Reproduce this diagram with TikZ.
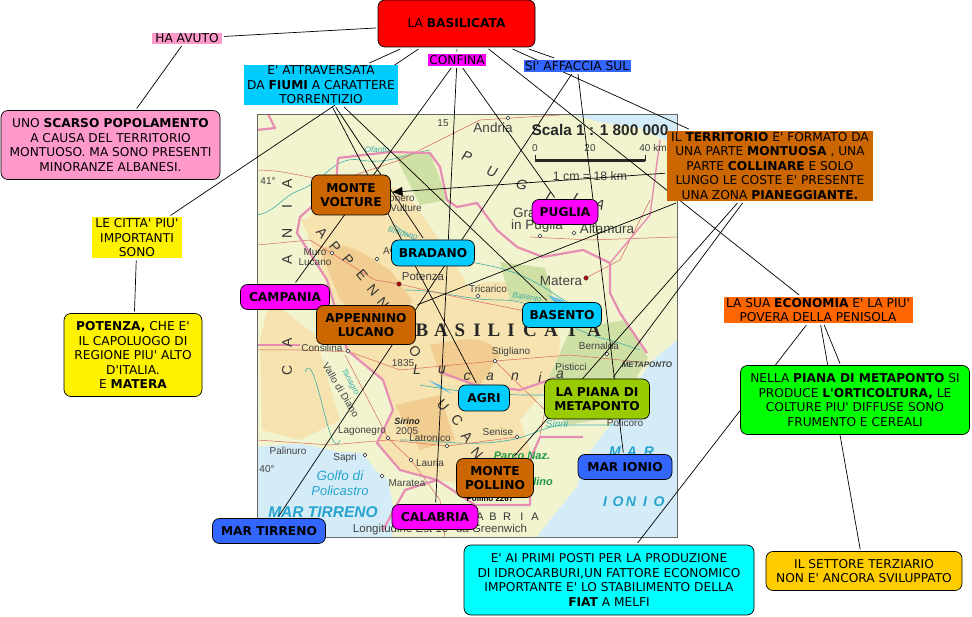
\documentclass[tikz,border=0pt]{standalone}
\usepackage{fontspec}
\setmainfont{DejaVu Sans}[Ligatures=TeXOff]
\newfontfamily\mapfont{Liberation Sans}
\newfontfamily\mapserif{Liberation Serif}
\usepackage{xcolor}
\usepackage{tikz}
\usetikzlibrary{arrows.meta, backgrounds}
\definecolor{sandbg}{HTML}{F1F4CF}
\definecolor{seabg}{HTML}{D4ECF8}
\definecolor{hillbg}{HTML}{F6E3B0}
\definecolor{peakbg}{HTML}{F1CD92}
\definecolor{plainbg}{HTML}{CFE0A4}
\definecolor{borderpk}{HTML}{E58DB2}
\definecolor{roadrd}{HTML}{D9695F}
\definecolor{rivertl}{HTML}{3FAFA8}
\definecolor{seatxt}{HTML}{27A3CF}
\definecolor{parkgr}{HTML}{1E9A45}
\definecolor{rootred}{HTML}{FF0000}
\definecolor{pinkbx}{HTML}{FF99CC}
\definecolor{skybx}{HTML}{00CCFF}
\definecolor{magbx}{HTML}{FF00FF}
\definecolor{bluebx}{HTML}{3366FF}
\definecolor{brownbx}{HTML}{CC6600}
\definecolor{orangebx}{HTML}{FF6600}
\definecolor{greenbx}{HTML}{00FF00}
\definecolor{cyanbx}{HTML}{00FFFF}
\definecolor{amberbx}{HTML}{FFCC00}
\definecolor{olivebx}{HTML}{99CC00}
\tikzset{
    notebox/.style={rectangle, rounded corners=7pt, draw=black, line width=0.7pt, align=center, inner sep=0pt, outer sep=2pt, font=\fontsize{12.2}{14.5}\selectfont},
    placebox/.style={notebox, font=\fontsize{12.2}{14.5}\selectfont\bfseries},
    linktext/.style={rectangle, align=center, inner sep=0pt, outer sep=2pt, font=\fontsize{12.2}{14.5}\selectfont},
    boxsize/.style 2 args={minimum width=#1, minimum height=#2},
    link/.style={line width=0.7pt, black},
    arrow/.style={link, -{Triangle[length=10pt,width=9pt]}},
    maptext/.style={inner sep=0pt, font=\mapfont\fontsize{10}{10}\selectfont, text=black!75},
    bigtown/.style={maptext, font=\mapfont\fontsize{13.5}{14}\selectfont},
    seatext/.style={maptext, font=\mapfont\fontsize{14}{14}\selectfont\bfseries\itshape, text=seatxt},
    rivertext/.style={maptext, font=\mapfont\fontsize{8}{9}\selectfont\itshape, text=rivertl},
    bigletter/.style={maptext, font=\mapfont\fontsize{14}{14}\selectfont, text=black!80},
    town/.style={circle, draw=black!80, fill=white, line width=0.6pt, inner sep=1.4pt},
    capital/.style={circle, draw=black!70, fill=red!70!black, line width=0.4pt, inner sep=1.6pt},
    border/.style={borderpk, line width=2.2pt, line join=round},
    road/.style={roadrd, line width=0.5pt},
    river/.style={rivertl, line width=0.6pt}
}

\begin{document}
\begin{tikzpicture}[x=1pt, y=-1pt]
    \useasboundingbox (0,0) rectangle (972,617);

    % the map
    \begin{scope}[on background layer]
    \begin{scope}
        \clip (257,114) rectangle (677,537);
        \fill [sandbg] (257,114) rectangle (677,537);
        \fill [seabg] (570,114) -- (677,114) -- (677,146) -- (640,128) -- (600,122) -- cycle;
        \fill [seabg] (257,447) -- (290,444) to[out=0,in=170] (340,452) -- (363,453) -- (375,470) -- (388,480) -- (393,507) -- (392,537) -- (257,537) -- cycle;
        \fill [seabg] (677,340) -- (650,363) -- (630,395) -- (617,417) -- (595,445) -- (583,463) -- (577,487) -- (550,520) -- (537,537) -- (677,537) -- cycle;
        \fill [hillbg] (300,217) to[out=-40,in=180] (338,175) -- (372,190) to[out=30,in=130] (447,250) -- (470,290) to[out=40,in=90] (560,345) -- (555,378) -- (520,420) -- (530,450) -- (510,490) -- (437,480) -- (400,470) -- (377,443) -- (393,410) -- (383,380) -- (347,350) -- (327,280) -- cycle;
        \fill [hillbg] (270,300) -- (315,335) -- (340,420) -- (300,440) -- (262,430) -- (260,340) -- cycle;
        \fill [peakbg] (320,250) to[out=30,in=150] (390,270) -- (412,300) -- (402,345) -- (380,340) -- (340,300) -- cycle;
        \fill [peakbg] (430,345) to[out=10,in=120] (500,355) -- (480,385) -- (440,375) -- cycle;
        \fill [peakbg] (395,405) -- (440,395) -- (455,440) -- (420,450) -- cycle;
        \fill [plainbg] (570,330) -- (625,320) -- (648,358) -- (612,418) -- (565,425) -- (548,380) -- cycle;
        \fill [plainbg] (395,155) -- (430,153) -- (448,200) -- (420,205) -- cycle;
        \fill [plainbg] (500,262) -- (545,268) -- (555,305) -- (510,300) -- cycle;
        \draw [river] (257,215) to[out=10,in=200] (300,190) to[out=20,in=170] (360,160) to[out=-10,in=190] (430,150);
        \draw [river] (395,225) to[out=-40,in=170] (470,262) to[out=-10,in=150] (540,285) to[out=-30,in=170] (590,310);
        \draw [river] (405,290) to[out=0,in=180] (500,300) to[out=0,in=170] (610,340) -- (640,350);
        \draw [river] (420,385) to[out=-10,in=170] (465,392) -- (520,395) -- (590,395) -- (625,385);
        \draw [river] (400,440) to[out=0,in=190] (510,440) to[out=10,in=190] (560,425) -- (615,425);
        \draw [river] (305,372) to[out=70,in=-110] (340,440);
        \fill [seatxt!70] (428,380) -- (440,388) -- (452,394) -- (440,385) -- cycle;
        \fill [seatxt!70] (548,295) -- (562,300) -- (574,312) -- (556,304) -- cycle;
        \draw [road] (257,170) to[out=0,in=180] (340,180) -- (400,160) -- (480,120) -- (560,115);
        \draw [road] (257,245) -- (310,240) -- (375,280) -- (399,284) -- (470,300) -- (545,315);
        \draw [road] (530,237) -- (590,240) -- (677,237);
        \draw [road] (586,278) -- (620,260) -- (650,200);
        \draw [road] (257,350) -- (300,350) -- (350,352) -- (400,370) -- (495,361) -- (570,355) -- (640,362);
        \draw [road] (345,355) -- (388,438) -- (411,460) -- (440,500) -- (445,537);
        \draw [road] (257,440) -- (330,445) -- (388,440) -- (447,446) -- (517,437);
        \draw [road] (495,361) -- (545,410) -- (540,435);
        \draw [border] (257,130) -- (275,128) -- (268,114);
        \draw [border] (338,158) -- (390,152) -- (430,153) -- (440,167) -- (447,200) -- (457,207) -- (477,203) -- (497,230) -- (517,247) -- (543,257) -- (583,250) -- (610,263) -- (610,293) -- (620,313) -- (647,353);
        \draw [border] (338,158) -- (336,185) -- (300,217) -- (297,233) -- (327,280) -- (347,350) -- (383,380) -- (393,410) -- (377,443) -- (400,470) -- (437,480) -- (475,505) -- (530,505) -- (530,460) -- (540,437) -- (583,437);
        \draw [border] (383,530) -- (405,490) -- (437,480);
        \draw [border] (555,378) -- (520,390) -- (475,385) -- (440,372);
        \draw [border, line width=1.4pt] (610,263) -- (650,215) -- (660,140);
        \draw [border, line width=1.4pt] (257,345) -- (300,345);
    \end{scope}
    \draw [black!60, line width=0.8pt] (257,114) rectangle (677,537);

    % map names
    \node (scalatxt) [maptext, font=\mapfont\fontsize{15.4}{15.4}\selectfont\bfseries, text=black!85] at (600,130) {Scala 1 : 1 800 000};
    \node (scalacm) [maptext, font=\mapfont\fontsize{12.3}{13}\selectfont] at (590,176) {1 cm = 18 km};
    \foreach \tx/\ty/\tlabel in {535/148/0, 590/148/20, 653/148/40 km, 268/181/41°, 443/123/15,
        315/252/Muro, 315/262/Lucano, 488/289/Tricarico,
        322/348/Consilina, 403/363/1835, 511/352/Stigliano, 571/367/Pisticci, 599/346/Bernalda, 407/431/2005,
        430/438/Latronico, 362/431/Lagonegro, 498/432/Senise, 625/423/Policoro, 288/451/Palinuro, 345/458/Sapri,
        267/469/40°, 430/463/Lauria, 407/483/Maratea}
        \node [maptext] at (\tx,\ty) {\tlabel};
    \foreach \tx/\ty/\tlabel in {493/128/Andria, 537/226/in Puglia, 607/229/Altamura, 561/281/Matera}
        \node [bigtown] at (\tx,\ty) {\tlabel};
    \node [maptext, font=\mapfont\fontsize{11.5}{12}\selectfont] at (423,277) {Potenza};
    \node [maptext, font=\mapfont\fontsize{11.5}{12}\selectfont] at (440,530) {Longitudine Est 10° da Greenwich};
    \node [bigtown, anchor=west] at (513,213) {Gravina};
    \node [maptext, anchor=east] at (415,198) {Rionero};
    \node [maptext, anchor=east] at (422,208) {Vulture};
    \node [maptext, anchor=west] at (383,252) {Avigliano};
    \node [maptext, rotate=-59] at (341,390) {Vallo di Diano};
    \node [rivertext, rotate=-62] at (350,382) {Tanagro};
    \node [rivertext] at (377,150) {Ofanto};
    \node [rivertext, rotate=-15] at (403,233) {Bradano};
    \node [rivertext, rotate=-10] at (527,297) {Basento};
    \node [rivertext, font=\mapfont\fontsize{10}{10}\selectfont\itshape] at (557,424) {Sinni};
    \node [maptext, font=\mapfont\fontsize{8}{9}\selectfont\bfseries\itshape] at (647,365) {METAPONTO};
    \node [maptext, font=\mapfont\fontsize{9}{9}\selectfont\bfseries\itshape, text=black!85] at (407,421) {Sirino};
    \node [maptext, font=\mapfont\fontsize{11}{11}\selectfont\bfseries\itshape, text=parkgr] at (522,456) {Parco Naz.};
    \node [maptext, font=\mapfont\fontsize{11}{11}\selectfont\bfseries\itshape, text=parkgr, anchor=east] at (553,482) {del Pollino};
    \node [maptext, font=\mapfont\fontsize{8}{9}\selectfont\bfseries, text=black] at (490,499) {Pollino 2267};
    \node [seatext, font=\mapfont\fontsize{13.5}{14}\selectfont\itshape] at (340,476) {Golfo di};
    \node [seatext, font=\mapfont\fontsize{13}{14}\selectfont\itshape] at (340,491) {Policastro};
    \node [seatext, font=\mapfont\fontsize{15.5}{16}\selectfont\bfseries\itshape] at (323,512) {MAR TIRRENO};
    \foreach \lx/\ltr in {615/M, 632/A, 649/R}
        \node [seatext] at (\lx,452) {\ltr};
    \foreach \lx/\ltr in {607/I, 620/O, 633/N, 647/I, 661/O}
        \node [seatext] at (\lx-2,502) {\ltr};
    \foreach \lx/\ltr in {422/B, 441/A, 460/S, 477/I, 494/L, 511/I, 530/C, 551/A, 572/T, 594/A}
        \node [maptext, font=\mapserif\fontsize{19}{19}\selectfont\bfseries, text=black!85] at (\lx,330) {\ltr};
    \foreach \ly/\ltr in {184/A, 207/I, 233/N, 260/A, 343/A, 370/C}
        \node [bigletter, rotate=90] at (287,\ly) {\ltr};
    \foreach \lx/\ly/\ltr in {322/233/A, 335/247/P, 348/260/P, 362/275/E, 373/290/N, 383/303/N, 415/352/O, 443/405/U, 457/420/C, 467/437/A, 477/453/N}
        \node [bigletter, rotate=-50] at (\lx,\ly) {\ltr};
    \foreach \lx/\ly/\ltr in {467/157/P, 492/172/U, 522/185/G, 550/197/L, 575/198/I, 600/205/A}
        \node [bigletter, rotate=-20, font=\mapfont\fontsize{14}{14}\selectfont\itshape] at (\lx,\ly) {\ltr};
    \foreach \lx/\ly/\ltr in {417/370/L, 442/370/u, 467/377/c, 490/377/a, 515/377/n, 540/377/i, 560/375/a}
        \node [bigletter, font=\mapfont\fontsize{14}{14}\selectfont\itshape] at (\lx,\ly) {\ltr};
    \foreach \lx/\ltr in {480/A, 493/B, 507/R, 522/I, 535/A}
        \node [bigletter, font=\mapfont\fontsize{11}{11}\selectfont] at (\lx,517) {\ltr};
    \foreach \tx/\ty in {508/118, 540/236, 574/233, 332/253, 377/259, 478/296, 348/351, 495/361, 607/354, 388/438, 447/446, 517/437, 365/455, 411/460, 382/476}
        \node [town] at (\tx,\ty) {};
    \node (potenzadot) [capital] at (399,284) {};
    \node (materadot) [capital] at (586,278) {};
    \fill [black!85] (535,159.5) rectangle (645,162);
    \draw [black!85, line width=0.8pt] (535,161) -- (535,155) (645,161) -- (645,155);
    \end{scope}

    % the concepts
    \node (root) [notebox, fill=rootred, boxsize={157}{47}] at (456.5,23.5) {LA \textbf{BASILICATA}};
    \node (haavuto) [linktext, fill=pinkbx, boxsize={70}{11}] at (187,38.5) {HA AVUTO};
    \node (fiumi) [linktext, fill=skybx, boxsize={154}{40}] at (321,85) {E' ATTRAVERSATA\\DA \textbf{FIUMI} A CARATTERE\\TORRENTIZIO};
    \node (confina) [linktext, fill=magbx, boxsize={58}{12}] at (457,60) {CONFINA};
    \node (affaccia) [linktext, fill=bluebx, boxsize={107}{12}] at (577,66) {SI' AFFACCIA SUL};
    \node (popolo) [notebox, fill=pinkbx, boxsize={219}{69}] at (110.5,145) {UNO \textbf{SCARSO POPOLAMENTO}\\A CAUSA DEL TERRITORIO\\MONTUOSO. MA SONO PRESENTI\\MINORANZE ALBANESI.};
    \node (citta) [linktext, fill=yellow, boxsize={90}{41}] at (137,238) {LE CITTA' PIU'\\IMPORTANTI\\SONO};
    \node (potenza) [notebox, fill=yellow, boxsize={138}{83}] at (133,355) {\textbf{POTENZA,} CHE E'\\IL CAPOLUOGO DI\\REGIONE PIU' ALTO\\D'ITALIA.\\E \textbf{MATERA}};
    \node (volture) [placebox, fill=brownbx, boxsize={79}{40}] at (351,195) {MONTE\\VOLTURE};
    \node (bradano) [placebox, fill=skybx, boxsize={83}{26}] at (433,253) {BRADANO};
    \node (puglia) [placebox, fill=magbx, boxsize={66}{25}] at (565,212) {PUGLIA};
    \node (campania) [placebox, fill=magbx, boxsize={89}{25}] at (285,297) {CAMPANIA};
    \node (appennino) [placebox, fill=brownbx, boxsize={99}{39}] at (366,325) {APPENNINO\\LUCANO};
    \node (basento) [placebox, fill=skybx, boxsize={79}{25}] at (562,315) {BASENTO};
    \node (agri) [placebox, fill=skybx, boxsize={51}{26}] at (484,398) {AGRI};
    \node (piana) [placebox, fill=olivebx, boxsize={105}{40}] at (597,399) {LA PIANA DI\\METAPONTO};
    \node (pollino) [placebox, fill=brownbx, boxsize={77}{39}] at (495,478) {MONTE\\POLLINO};
    \node (ionio) [placebox, fill=bluebx, boxsize={94}{25}] at (625,467) {MAR IONIO};
    \node (calabria) [placebox, fill=magbx, boxsize={86}{25}] at (435,517) {CALABRIA};
    \node (tirreno) [placebox, fill=bluebx, boxsize={113}{25}] at (269,531) {MAR TIRRENO};
    \node (territorio) [linktext, fill=brownbx, boxsize={206}{70}] at (770,166) {IL \textbf{TERRITORIO} E' FORMATO DA\\UNA PARTE \textbf{MONTUOSA} , UNA\\PARTE \textbf{COLLINARE} E SOLO\\LUNGO LE COSTE E' PRESENTE\\UNA ZONA \textbf{PIANEGGIANTE.}};
    \node (economia) [linktext, fill=orangebx, boxsize={189}{26}] at (818,310) {LA SUA \textbf{ECONOMIA} E' LA PIU'\\POVERA DELLA PENISOLA};
    \node (metaponto) [notebox, fill=greenbx, boxsize={229}{69}] at (855,400) {NELLA \textbf{PIANA DI METAPONTO} SI\\PRODUCE \textbf{L'ORTICOLTURA,} LE\\COLTURE PIU' DIFFUSE SONO\\FRUMENTO E CEREALI};
    \node (petrolio) [notebox, fill=cyanbx, boxsize={290}{70}] at (609,580) {E' AI PRIMI POSTI PER LA PRODUZIONE\\DI IDROCARBURI,UN FATTORE ECONOMICO\\IMPORTANTE E' LO STABILIMENTO DELLA\\\textbf{FIAT} A MELFI};
    \node (terziario) [notebox, fill=amberbx, boxsize={196}{39}] at (864,571) {IL SETTORE TERZIARIO\\NON E' ANCORA SVILUPPATO};

    % the connectors
    \begin{scope}[on background layer]
    \draw [link] (root) -- (haavuto);
    \draw [link] (haavuto) -- (popolo);
    \draw [link] (root) -- (fiumi);
    \draw [link] (root) -- (citta);
    \draw [link] (citta) -- (potenza);
    \draw [link] (root) -- (confina);
    \draw [link] (root) -- (affaccia);
    \draw [link] (root) -- (territorio);
    \draw [link] (root) -- (economia);
    \draw [link] (fiumi) -- (bradano);
    \draw [link] (fiumi) -- (basento);
    \draw [link] (fiumi) -- (agri);
    \draw [link] (confina) -- (campania);
    \draw [link] (confina) -- (calabria);
    \draw [link] (confina) -- (puglia);
    \draw [link] (affaccia) -- (tirreno);
    \draw [link] (affaccia) -- (ionio);
    \draw [arrow] (territorio) -- (volture);
    \draw [link] (territorio) -- (appennino);
    \draw [link] (territorio) -- (piana);
    \draw [link] (territorio) -- (pollino);
    \draw [link] (economia) -- (metaponto);
    \draw [link] (economia) -- (petrolio);
    \draw [link] (economia) -- (terziario);
    \end{scope}
\end{tikzpicture}
\end{document}
